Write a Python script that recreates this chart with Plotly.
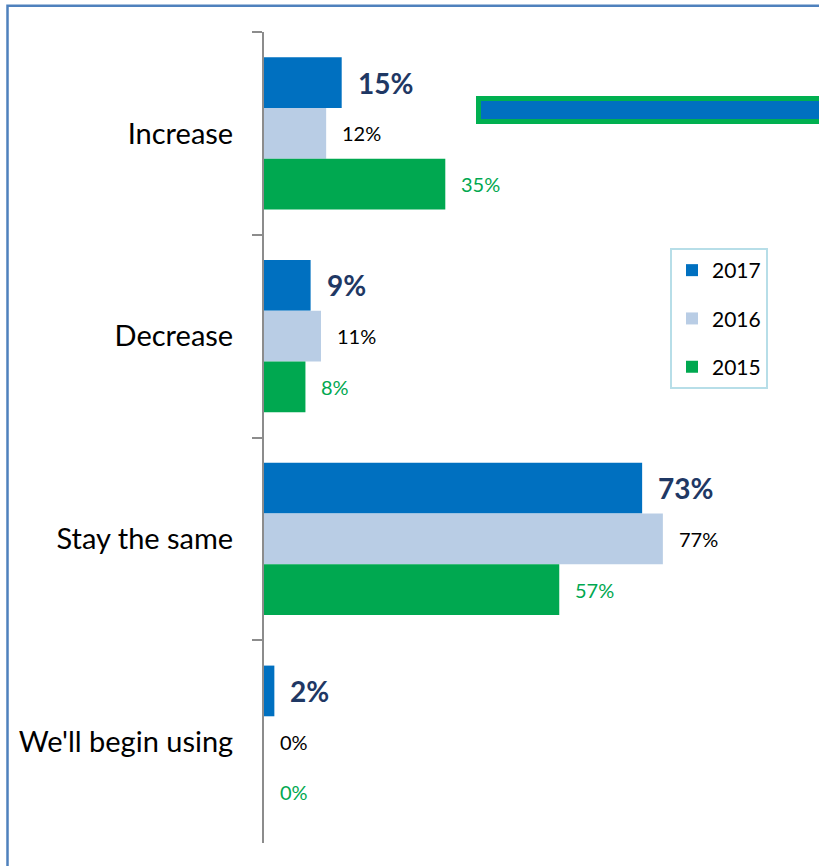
import plotly.graph_objects as go

categories = ["Increase", "Decrease", "Stay the same", "We'll begin using"]
series_names = ["2017", "2016", "2015"]
values_2017 = [15, 9, 73, 2]
values_2016 = [12, 11, 77, 0]
values_2015 = [35, 8, 57, 0]

series_values = [values_2017, values_2016, values_2015]
bar_colors = ["#0070C0", "#B9CDE5", "#00A850"]
label_colors = ["#1F3864", "#000000", "#00A850"]
label_sizes = [28, 20, 20]
label_bold = [True, False, False]

FONT = "Lato, 'Open Sans', sans-serif"

fig = go.Figure()
for i, (name, vals) in enumerate(zip(series_names, series_values)):
    fig.add_trace(go.Bar(
        y=categories, x=vals, name=name, orientation="h",
        marker=dict(color=bar_colors[i], line=dict(width=0)),
        legendgroup=name,
    ))

# data labels
n = len(series_names)
offsets = [(-1 + k) * 0.25 for k in range(n)]
annotations = []
for i, vals in enumerate(series_values):
    for j, v in enumerate(vals):
        txt = f"{v}%"
        if label_bold[i]:
            txt = f"<b>{txt}</b>"
        annotations.append(dict(
            x=v, y=j + offsets[i], xref="x", yref="y", text=txt,
            showarrow=False, xanchor="left", yanchor="middle", xshift=14,
            font=dict(family=FONT, size=label_sizes[i], color=label_colors[i]),
        ))

W, H = 819, 866
L, R, T, B = 264, 37, 32, 23
pw, ph = W - L - R, H - T - B

def px(xp):
    return (xp - L) / pw

def py(yp):
    return 1 - (yp - T) / ph

shapes = [
    # outer frame
    dict(type="rect", xref="paper", yref="paper",
         x0=px(7.5), x1=px(900), y0=py(900), y1=py(5.7),
         line=dict(color="#4F81BD", width=2.5), fillcolor="rgba(0,0,0,0)", layer="below"),
    # stray legend-like box at top right
    dict(type="rect", xref="paper", yref="paper",
         x0=px(478.5), x1=px(840), y0=py(121.5), y1=py(98.5),
         line=dict(color="#00B050", width=5), fillcolor="#0070C0"),
]

fig.update_layout(
    width=W, height=H,
    margin=dict(l=L, r=R, t=T, b=B, pad=0),
    paper_bgcolor="white", plot_bgcolor="white",
    barmode="group", bargap=0.25, bargroupgap=0,
    font=dict(family=FONT, color="#000000"),
    xaxis=dict(visible=False, range=[0, 100], fixedrange=True),
    yaxis=dict(
        type="category", categoryorder="array", categoryarray=categories,
        autorange="reversed", showgrid=False, zeroline=False,
        showline=True, linecolor="#8C8C8C", linewidth=2,
        ticks="outside", ticklen=10, tickwidth=2, tickcolor="#8C8C8C",
        tickson="boundaries", ticklabelstandoff=23,
        tickfont=dict(family=FONT, size=29, color="#000000"),
    ),
    legend=dict(
        x=px(670), y=py(248), xanchor="left", yanchor="top",
        bgcolor="white", bordercolor="#B7DEE8", borderwidth=2,
        traceorder="grouped", tracegroupgap=18,
        font=dict(family=FONT, size=21, color="#000000"),
        itemwidth=30,
    ),
    annotations=annotations,
    shapes=shapes,
)

fig.write_html("out.html", config={"displayModeBar": False},
               post_script="document.body.style.margin='0px';")
